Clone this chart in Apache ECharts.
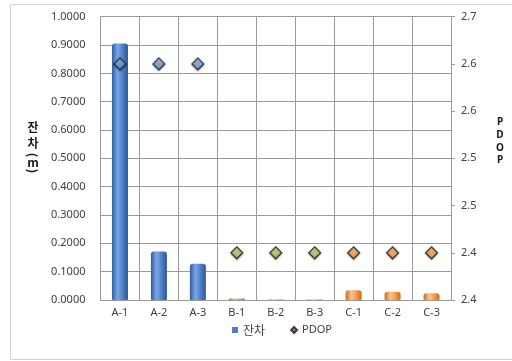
<!DOCTYPE html>
<html>
<head>
<meta charset="utf-8">
<script src="https://cdn.jsdelivr.net/npm/echarts@6/dist/echarts.min.js"></script>
<style>
  html, body { margin: 0; padding: 0; background: #ffffff; }
  #chart { width: 512px; height: 361px; }
</style>
</head>
<body>
<div id="chart"></div>
<script>
// Station categories and measured values
var categories = ['A-1', 'A-2', 'A-3', 'B-1', 'B-2', 'B-3', 'C-1', 'C-2', 'C-3'];
var residuals = [0.905, 0.171, 0.128, 0.005, 0.002, 0.002, 0.034, 0.029, 0.024];
var pdop = [2.65, 2.65, 2.65, 2.45, 2.45, 2.45, 2.45, 2.45, 2.45];
var groups = ['A', 'A', 'A', 'B', 'B', 'B', 'C', 'C', 'C'];
var rightTickLabels = ['2.4', '2.4', '2.5', '2.5', '2.6', '2.6', '2.7'];

var RIGHT_MIN = 2.4, RIGHT_STEP = 0.05;

// Cylinder-like shading for each station group
function barFill(g) {
  var stops = {
    A: ['#2f5d9e', '#7aa6e6', '#4a7cc4', '#2c5795'],
    B: ['#6f8a3a', '#c3dc8a', '#9bbb59', '#6f8a3a'],
    C: ['#c9691c', '#fcc48f', '#f79646', '#c9691c']
  }[g];
  return new echarts.graphic.LinearGradient(0, 0, 1, 0, [
    { offset: 0, color: stops[0] },
    { offset: 0.35, color: stops[1] },
    { offset: 0.7, color: stops[2] },
    { offset: 1, color: stops[3] }
  ]);
}
function markerFill(g) {
  var c = { A: ['#9cc2f2', '#4f81bd'], B: ['#cfe69a', '#8db04a'], C: ['#fcc28a', '#f08a30'] }[g];
  return new echarts.graphic.LinearGradient(0, 0, 0, 1, [
    { offset: 0, color: c[0] }, { offset: 1, color: c[1] }
  ]);
}

var barData = residuals.map(function (v, i) {
  return { value: v, itemStyle: { color: barFill(groups[i]) } };
});
var pdopData = pdop.map(function (v, i) {
  return { value: v, itemStyle: { color: markerFill(groups[i]) } };
});

// Vertical axis titles, one glyph per line (parentheses turned sideways)
var leftTitle = [
  { t: '잔', y: 127, rot: 0 },
  { t: '차', y: 143, rot: 0 },
  { t: '(', y: 155, rot: -Math.PI / 2 },
  { t: 'm', y: 162, rot: 0 },
  { t: ')', y: 171, rot: -Math.PI / 2 }
];
var rightTitle = [
  { t: 'P', y: 122 },
  { t: 'D', y: 135 },
  { t: 'O', y: 148 },
  { t: 'P', y: 160 }
];

var titleGraphics = leftTitle.map(function (c) {
  return {
    type: 'text', x: 33, y: c.y, rotation: c.rot,
    style: {
      text: c.t, fill: '#1a1a1a', align: 'center', verticalAlign: 'middle',
      font: 'bold 12px "Noto Sans CJK KR"'
    }
  };
}).concat(rightTitle.map(function (c) {
  return {
    type: 'text', x: 500, y: c.y,
    style: {
      text: c.t, fill: '#1a1a1a', align: 'center', verticalAlign: 'middle',
      font: 'bold 10px "Noto Sans"'
    }
  };
}));

var chart = echarts.init(document.getElementById('chart'));
var labelFont = { color: '#404040', fontSize: 11, fontFamily: 'Noto Sans' };
var gridColor = '#9a9a9a';

chart.setOption({
  animation: false,
  backgroundColor: '#ffffff',
  grid: { left: 100.5, right: 61, top: 16.7, bottom: 61 },
  xAxis: {
    type: 'category',
    data: categories,
    axisLine: { lineStyle: { color: gridColor } },
    axisTick: { show: false },
    splitLine: { show: true, interval: 0, lineStyle: { color: gridColor } },
    axisLabel: Object.assign({ margin: 7, interval: 0 }, labelFont)
  },
  yAxis: [{
    type: 'value',
    min: 0, max: 1, interval: 0.1,
    axisLine: { show: true, lineStyle: { color: gridColor } },
    axisTick: { show: false },
    splitLine: { lineStyle: { color: gridColor } },
    axisLabel: Object.assign({ margin: 15, formatter: function (v) { return v.toFixed(4); } }, labelFont)
  }, {
    type: 'value',
    min: RIGHT_MIN, max: 2.7, interval: RIGHT_STEP,
    axisLine: { show: true, lineStyle: { color: gridColor } },
    axisTick: { show: true, length: 4, lineStyle: { color: gridColor } },
    splitLine: { show: false },
    axisLabel: Object.assign({
      margin: 10,
      formatter: function (v) {
        return rightTickLabels[Math.round((v - RIGHT_MIN) / RIGHT_STEP)];
      }
    }, labelFont)
  }],
  legend: {
    left: 227, top: 319,
    itemWidth: 6, itemHeight: 6, itemGap: 25,
    textStyle: { color: '#404040', fontSize: 11, fontFamily: 'Noto Sans' },
    data: [
      { name: '잔차', icon: 'rect', textStyle: { fontSize: 12, fontFamily: 'Noto Sans CJK KR', padding: [5, 0, 0, 0] } },
      { name: 'PDOP', icon: 'diamond' }
    ]
  },
  series: [{
    name: '잔차',
    type: 'bar',
    yAxisIndex: 0,
    barWidth: 16,
    itemStyle: { color: '#4f81bd', borderRadius: [3, 3, 1, 1] },
    data: barData
  }, {
    name: 'PDOP',
    type: 'scatter',
    yAxisIndex: 1,
    symbol: 'diamond',
    symbolSize: 12,
    z: 5,
    itemStyle: {
      color: '#c0504d',
      borderColor: '#1a1a1a',
      borderWidth: 1.2,
      shadowColor: 'rgba(0,0,0,0.35)',
      shadowBlur: 2,
      shadowOffsetY: 1
    },
    data: pdopData
  }],
  graphic: [
    {
      type: 'rect', silent: true, z: -10,
      shape: { x: 10.5, y: 4.5, width: 520, height: 355 },
      style: { fill: null, stroke: '#d0d0d0', lineWidth: 1 }
    }
  ].concat(titleGraphics)
});
</script>
</body>
</html>
